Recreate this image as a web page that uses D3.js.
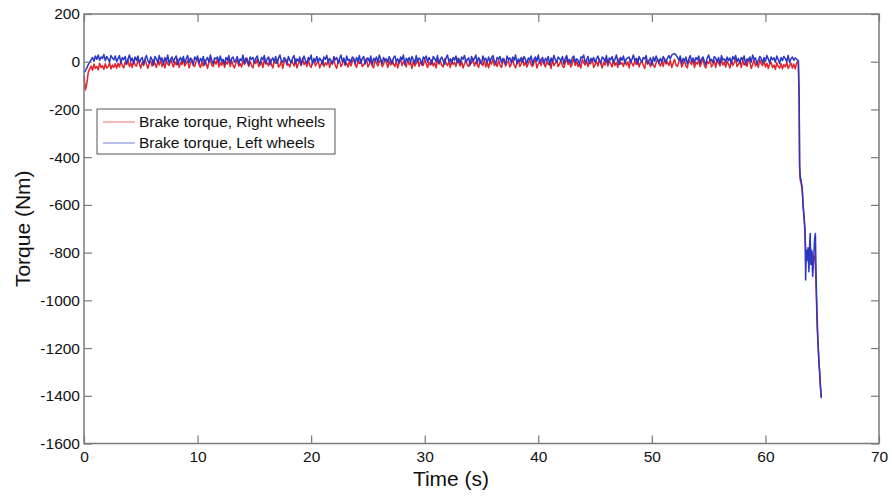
<!DOCTYPE html>
<html>
<head>
<meta charset="utf-8">
<script src="https://cdn.jsdelivr.net/npm/d3@7/dist/d3.min.js"></script>
<style>
  html, body { margin: 0; padding: 0; background: #fff; }
  svg { display: block; font-family: "Liberation Sans", Arial, Helvetica, sans-serif; }
</style>
</head>
<body>
<svg id="chart" width="892" height="497"></svg>
<script>
// Sample interval of the logged brake torque signals (s)
const sampleStep = 0.125;

// Right wheels brake torque (Nm), one value per sample from t = 0 (3 s per row)
const rightTorque = [
  -60, -118, -92, -44, -30, -18, -36, -10, -28, -20, -34, -6, -24, -16, -32, -8, -26, -22, -4, -30, -14, -24, -8, -28,
  -6, -22, 4, -16, -26, 0, -12, 8, -20, -4, -24, 6, -14, -18, 10, -8, -26, -2, -16, 8, -10, -28, -6, 2,
  -18, 8, -8, -24, 2, -14, 12, -20, -4, -26, 6, -10, -16, 10, -6, -22, 0, -14, 12, -24, -2, -12, 8, -18,
  -6, 4, -26, -8, 10, -16, -20, 2, 14, -12, -24, 0, -18, 8, -6, -28, -2, 10, -14, -20, 4, -10, 12, -22,
  -4, -16, 8, -24, 0, -10, 12, -20, 4, -14, -26, -6, 10, -18, -8, -22, 6, -12, -2, 14, -20, 2, -16, -26,
  4, -8, 10, -20, -14, 0, -24, 8, -10, -4, -18, 12, -12, -26, 2, -6, 10, -22, -16, 4, -28, -2, 12, -14,
  -10, -22, 6, -4, -18, 10, -26, -8, 2, -16, 14, -12, 0, -20, 8, -14, -24, -2, 10, -18, -6, 4, -26, -10,
  8, -20, -4, -14, 10, -24, 0, -8, 12, -16, -28, -2, 6, -20, -10, 10, -14, -6, -22, 4, -18, 0, 12, -12,
  -24, 2, -8, 10, -20, -14, -2, 14, -22, -10, 4, -16, -26, 10, -6, -18, 0, 8, -20, -12, 12, -4, -24, 2,
  -14, 8, -10, -20, 4, -26, -4, 12, -16, 0, -8, -22, 10, -12, -2, -28, 6, -18, -6, 10, -20, 2, -10, -16,
  12, -8, -24, -2, -14, 8, -18, -4, -26, 10, -10, 4, -16, -22, 12, -6, -16, 0, -24, 8, -12, -2, -20, 14,
  -4, -18, 2, -26, -10, 10, -14, -20, 4, -6, 14, -18, 0, -12, -24, 8, -8, -16, 10, -22, -2, -26, 2, -10,
  12, -16, -6, -20, 6, -12, -24, -2, 12, -18, -4, 4, -22, -10, 10, -14, -26, -4, 8, -20, -8, 14, -16, 0,
  -22, -6, 8, -14, -20, -2, 10, -26, -10, 2, -16, 12, -8, -22, 4, -12, -4, -28, 10, -16, -6, 6, -20, -10,
  8, -18, -24, -4, 12, -12, 0, -22, -6, 14, -16, 2, -20, -10, -26, 10, -4, -14, 6, -20, -2, -8, 12, -24,
  -12, 2, -18, 10, -6, -26, -2, -14, 12, -18, 4, -8, -22, 8, -16, -2, -24, 14, -10, -4, -20, 6, -14, 0,
  -26, 10, -8, -18, 4, -12, 12, -22, -4, 2, -16, -28, 10, -10, -2, -20, 6, -14, -24, -4, 12, -8, -18, 2,
  -20, 14, -10, -2, -16, 6, -24, -6, 10, -14, -20, 0, 12, -22, -8, 4, -18, -26, 8, -4, -12, 10, -24, -2,
  -10, 6, -20, -4, 12, -16, -26, 0, -8, 10, -22, -12, 4, -24, 8, -6, -18, 14, -14, -2, -22, 2, -10, -26,
  6, -16, -4, 12, -20, -10, 2, -24, 10, -14, -6, -20, 12, -2, -28, -12, 8, -18, -4, -24, 8, -8, -16, 4,
  -22, -6, -28, -10, -2, -24, -14, -32, -4, -20, -26, -8, -30, -12, -22, -2, -28, -16, -6, -26, -10, -30, -4, 0
];

// Left wheels brake torque (Nm), one value per sample from t = 0 (3 s per row)
const leftTorque = [
  -45, -38, -26, -12, -2, 8, 18, 2, 24, 10, 28, 6, 20, 14, 30, 4, 22, 12, -2, 26, 16, 8, 24, 0,
  14, 26, -6, 18, 8, 22, -10, 12, 28, 2, 16, -8, 20, 6, 24, -4, 10, 18, -12, 14, 26, 4, -6, 20,
  8, -14, 22, 12, -4, 26, 6, 16, -10, 18, 2, 28, -8, 10, 20, -2, 14, 24, -12, 6, 18, 0, 22, -6,
  12, 26, -4, 16, 4, -12, 20, 10, 24, -8, 14, 2, 22, -14, 8, 18, -2, 28, 6, -10, 16, 12, 20, -4,
  24, 0, 10, -12, 18, 6, 26, -6, 14, 20, -2, 8, 22, -10, 12, 4, 28, -8, 16, 2, -14, 20, 10, 18,
  -4, 14, 24, 2, -10, 18, 8, 26, -6, 12, 20, -12, 6, 16, 0, 22, -8, 14, 28, 4, -2, 18, 10, -10,
  22, 6, -4, 16, 26, -8, 12, 2, 20, -14, 10, 24, 4, -6, 18, 8, 28, -10, 14, 0, 22, -2, 16, 6,
  -12, 20, 10, 26, -4, 14, 4, -10, 22, 8, 18, -6, 12, 28, 0, 16, -14, 24, 6, 10, -2, 20, 14, -8,
  18, 2, 26, -6, 12, 22, -10, 8, 16, 0, 24, -12, 14, 6, 20, -4, 28, 10, -8, 18, 4, 12, -2, 22,
  6, -10, 16, 24, 2, 12, -6, 20, 8, 28, -12, 14, 4, 18, -4, 22, 10, -8, 26, 0, 16, 8, -14, 20,
  12, 24, -2, 18, 6, -10, 22, 14, 0, 26, -6, 10, 20, 4, -12, 16, 28, 2, 12, -8, 18, 6, 24, -4,
  14, -8, 20, 10, 26, -2, 8, 16, -14, 22, 4, 12, 28, -6, 18, 2, -10, 24, 8, 14, -4, 20, 0, 16,
  26, 4, -8, 18, 10, 22, -4, 14, 2, -12, 24, 8, 16, -6, 20, 6, 28, -10, 12, 0, 18, -2, 22, 10,
  -6, 16, 8, 24, -12, 12, 20, 2, 28, -4, 10, 18, -8, 14, 6, 22, -14, 16, 0, 26, 8, -2, 20, 12,
  4, 22, -10, 14, 26, 0, 10, -6, 18, 24, -2, 12, 6, -12, 20, 16, 28, -4, 8, 22, -8, 14, 2, 18,
  -2, 12, 24, 6, -8, 20, 14, 0, 26, -10, 16, 8, 22, -4, 10, 28, 2, -12, 18, 6, 24, -6, 12, 16,
  20, -4, 10, 28, 4, 14, -10, 22, 8, -2, 18, 12, 26, -8, 6, 16, -14, 20, 2, 24, 10, -6, 14, 0,
  22, 8, -4, 16, 26, 12, 28, 32, 34, 28, 18, 6, 24, -8, 14, 2, 20, -10, 10, 26, 0, 16, -4, 18,
  8, 24, -6, 12, 20, 2, -12, 16, 28, 6, 10, -4, 22, 14, 0, 18, -10, 26, 8, 12, -2, 20, 4, 16,
  -8, 22, 10, 26, 0, 14, -6, 18, 8, 24, -12, 12, 4, 20, -2, 28, 10, 16, -10, 6, 22, 14, -4, 18,
  2, 26, 12, -6, 20, 8, 16, -2, 24, 10, -8, 18, 4, 22, 14, 0, 26, -4, 12, 20, 6, 16, 10, 4
];

// Final braking phase, [time (s), torque (Nm)]
const rightTail = [
  [62.9, -2], [62.97, -170], [63.01, -450], [63.06, -495], [63.15, -510], [63.24, -540],
  [63.32, -600], [63.41, -650], [63.5, -740], [63.58, -815], [63.66, -835], [63.75, -805],
  [63.85, -830], [63.94, -810], [64.03, -825], [64.12, -800], [64.22, -830], [64.32, -815],
  [64.4, -850], [64.47, -960], [64.56, -1120], [64.65, -1195], [64.73, -1270], [64.82, -1350],
  [64.91, -1405]
];
const leftTail = [
  [62.9, 5], [62.97, -150], [63.01, -430], [63.06, -480], [63.15, -500], [63.24, -530],
  [63.32, -610], [63.41, -660], [63.48, -700], [63.54, -915], [63.6, -790], [63.67, -830],
  [63.75, -780], [63.83, -880], [63.9, -760], [63.94, -720], [64.0, -850], [64.08, -790],
  [64.16, -900], [64.25, -830], [64.33, -740], [64.4, -720], [64.45, -860], [64.5, -980],
  [64.58, -1110], [64.65, -1200], [64.72, -1270], [64.78, -1300], [64.85, -1360], [64.92, -1410]
];

const xTicks = [0, 10, 20, 30, 40, 50, 60, 70];
const yTicks = [200, 0, -200, -400, -600, -800, -1000, -1200, -1400, -1600];
const seriesNames = ["Brake torque, Right wheels", "Brake torque, Left wheels"];
const seriesColors = ["#e3222a", "#2a36c4"];

const margin = { left: 84, top: 14, right: 13, bottom: 53.5 };
const W = 892, H = 497;
const iw = W - margin.left - margin.right;
const ih = H - margin.top - margin.bottom;

const svg = d3.select("#chart");
const g = svg.append("g").attr("transform", `translate(${margin.left},${margin.top})`);

const x = d3.scaleLinear().domain([0, 70]).range([0, iw]);
const y = d3.scaleLinear().domain([-1600, 200]).range([ih, 0]);

function toPoints(values, tail) {
  const pts = values.map((v, i) => [i * sampleStep, v]);
  return pts.concat(tail);
}
const series = [toPoints(rightTorque, rightTail), toPoints(leftTorque, leftTail)];

const line = d3.line().x(d => x(d[0])).y(d => y(d[1]));

// Data lines (left wheels drawn last, on top)
series.forEach((pts, i) => {
  g.append("path")
    .datum(pts)
    .attr("fill", "none")
    .attr("stroke", seriesColors[i])
    .attr("stroke-width", 1.5)
    .attr("stroke-linejoin", "round")
    .attr("d", line);
});

// Axes with inward ticks on all four sides
const axisColor = "#7a7a7a";
const tickLen = 8;
const plainNumber = d => String(d);
function styleAxis(sel, showLabels) {
  sel.select(".domain").remove();
  sel.selectAll(".tick line").attr("stroke", axisColor).attr("stroke-width", 1.2);
  sel.selectAll(".tick text")
    .attr("fill", "#111")
    .style("font-size", "15.5px")
    .style("display", showLabels ? null : "none");
}

g.append("g").attr("transform", `translate(0,${ih})`)
  .call(d3.axisBottom(x).tickValues(xTicks).tickFormat(plainNumber).tickSizeInner(-tickLen).tickSizeOuter(0).tickPadding(7))
  .call(s => styleAxis(s, true));
g.append("g")
  .call(d3.axisTop(x).tickValues(xTicks).tickSizeInner(-tickLen).tickSizeOuter(0))
  .call(s => styleAxis(s, false));
g.append("g")
  .call(d3.axisLeft(y).tickValues(yTicks).tickFormat(plainNumber).tickSizeInner(-tickLen).tickSizeOuter(0).tickPadding(4))
  .call(s => styleAxis(s, true));
g.append("g").attr("transform", `translate(${iw},0)`)
  .call(d3.axisRight(y).tickValues(yTicks).tickSizeInner(-tickLen).tickSizeOuter(0))
  .call(s => styleAxis(s, false));

// Axes box
g.append("rect")
  .attr("x", 0).attr("y", 0).attr("width", iw).attr("height", ih)
  .attr("fill", "none").attr("stroke", axisColor).attr("stroke-width", 1.5);

// Axis titles
svg.append("text")
  .attr("x", 451).attr("y", 486)
  .attr("text-anchor", "middle")
  .style("font-size", "21px").attr("fill", "#111")
  .text("Time (s)");
svg.append("text")
  .attr("transform", `translate(30,${margin.top + ih / 2}) rotate(-90)`)
  .attr("text-anchor", "middle")
  .style("font-size", "21px").attr("fill", "#111")
  .text("Torque (Nm)");

// Legend
const legend = svg.append("g").attr("transform", "translate(97,109)");
legend.append("rect")
  .attr("width", 238).attr("height", 45)
  .attr("fill", "#fff").attr("stroke", "#555").attr("stroke-width", 1);
seriesNames.forEach((name, i) => {
  const cy = 13 + i * 21;
  legend.append("line")
    .attr("x1", 6).attr("x2", 38).attr("y1", cy).attr("y2", cy)
    .attr("stroke", seriesColors[i]).attr("stroke-width", 1.2).attr("stroke-opacity", 0.55);
  legend.append("text")
    .attr("x", 42).attr("y", cy).attr("dy", "0.35em")
    .style("font-size", "15.5px").attr("fill", "#111")
    .text(name);
});
</script>
</body>
</html>
